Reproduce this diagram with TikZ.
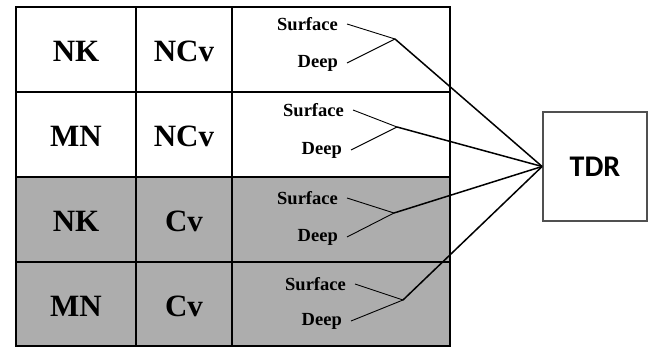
\documentclass[tikz,border=0pt]{standalone}
\usepackage{fontspec}
\setmainfont{Liberation Serif}
\newfontfamily\tdrfont{Carlito}
\definecolor{cellgrey}{HTML}{ADADAD}
\definecolor{boxedge}{HTML}{505050}
\begin{document}
\begin{tikzpicture}[x=1pt,y=-1pt,
  grid/.style={draw=black,line width=1.6pt},
  bigtxt/.style={font=\fontsize{31}{33}\selectfont\bfseries,inner sep=0pt},
  smalltxt/.style={font=\fontsize{18.5}{20}\selectfont\bfseries,anchor=east,inner xsep=9pt,inner ysep=0pt},
  thin/.style={line width=0.9pt},
  thick/.style={line width=1.5pt},
  tdrbox/.style={draw=boxedge,line width=1.8pt,fill=white,minimum width=104pt,minimum height=109pt,font=\tdrfont\fontsize{30}{32}\selectfont\bfseries}]
\useasboundingbox (0,0) rectangle (649,347);
% fills
\fill[white] (16,7) rectangle (450,177);
\fill[cellgrey] (16,177) rectangle (450,346);
% grid
\draw[grid] (16,7) rectangle (450,346);
\draw[grid] (136,7) -- (136,346);
\draw[grid] (232,7) -- (232,346);
\draw[grid] (16,92) -- (450,92);
\draw[grid] (16,177) -- (450,177);
\draw[grid] (16,262) -- (450,262);
% big labels
\node[bigtxt] (a1) at (76,51) {NK};
\node[bigtxt] (b1) at (184,51) {NCv};
\node[bigtxt] (a2) at (76,136) {MN};
\node[bigtxt] (b2) at (184,136) {NCv};
\node[bigtxt] (a3) at (76,221) {NK};
\node[bigtxt] (b3) at (184,221) {Cv};
\node[bigtxt] (a4) at (76,306) {MN};
\node[bigtxt] (b4) at (184,306) {Cv};
% surface / deep labels
\node[smalltxt] (s1) at (347,24) {Surface};
\node[smalltxt] (d1) at (347,63) {Deep};
\node[smalltxt] (s2) at (353,110) {Surface};
\node[smalltxt] (d2) at (351,150) {Deep};
\node[smalltxt] (s3) at (347,198) {Surface};
\node[smalltxt] (d3) at (347,237) {Deep};
\node[smalltxt] (s4) at (355,284) {Surface};
\node[smalltxt] (d4) at (351,321) {Deep};
% joints
\coordinate (j1) at (395,39);
\coordinate (j2) at (397,127);
\coordinate (j3) at (394,213);
\coordinate (j4) at (403,300);
% TDR
\node[tdrbox] (tdr) at (595,166.5) {TDR};
% connectors
\foreach \i in {1,2,3,4}{
  \draw[thin] (s\i.east) -- (j\i);
  \draw[thin] (d\i.east) -- (j\i);
  \draw[thick] (j\i) -- (tdr.west);
}
\end{tikzpicture}
\end{document}
